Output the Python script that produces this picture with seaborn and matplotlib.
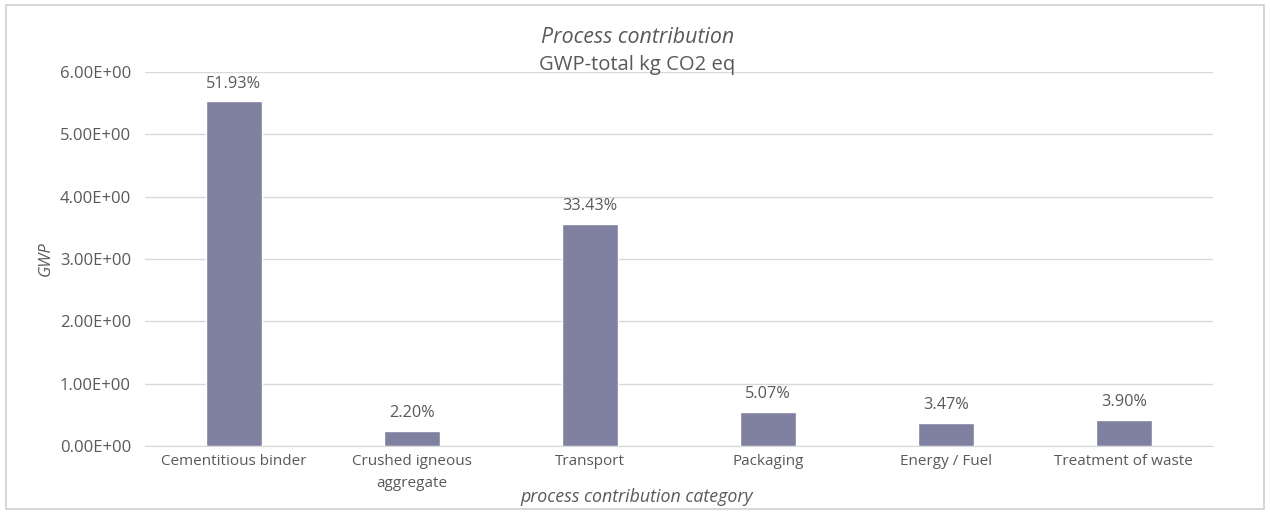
import seaborn as sns
import matplotlib.pyplot as plt
import matplotlib.patches as patches
import pandas as pd

categories = ['Cementitious binder', 'Crushed igneous\naggregate', 'Transport',
              'Packaging', 'Energy / Fuel', 'Treatment of waste']
gwp = [5.53, 0.234, 3.56, 0.54, 0.37, 0.415]
shares = ['51.93%', '2.20%', '33.43%', '5.07%', '3.47%', '3.90%']

sns.set_style('white')
plt.rcParams['font.family'] = ['Open Sans', 'DejaVu Sans']
txt = '#595959'

df = pd.DataFrame({'category': categories, 'gwp': gwp})

fig = plt.figure(figsize=(12.7, 5.12), dpi=100)
ax = fig.add_axes([0.114, 0.129, 0.841, 0.730])

sns.barplot(ax=ax, data=df, x='category', y='gwp', color='#8080a0',
            saturation=1, width=0.315, zorder=3)

ax.set_ylim(0, 6)
ax.set_xlim(-0.5, 5.5)
ax.set_yticks([0, 1, 2, 3, 4, 5, 6])
ax.set_yticklabels([f'{v:.2f}E+00' for v in range(7)], fontsize=12, color=txt)
ax.tick_params(axis='x', labelsize=11, labelcolor=txt, length=0, pad=6)
for lab in ax.get_xticklabels():
    lab.set_linespacing(1.6)
ax.tick_params(axis='y', length=0, pad=10)
ax.grid(axis='y', color='#d9d9d9', linewidth=1, zorder=0)
for s in ['top', 'right', 'left']:
    ax.spines[s].set_visible(False)
ax.spines['bottom'].set_color('#d9d9d9')

# percentage share above each bar
for i, (v, s) in enumerate(zip(gwp, shares)):
    ax.text(i, v + 0.16, s, ha='center', va='bottom', fontsize=11.7, color=txt)

ax.set_xlabel('')
ax.set_ylabel('')
fig.text(0.036, 0.494, 'GWP', ha='center', va='center', rotation=90,
         fontsize=12, style='italic', color=txt)
fig.text(0.501, 0.029, 'process contribution category', ha='center', va='center',
         fontsize=12.8, style='italic', color=txt)

fig.text(0.502, 0.926, 'Process contribution', ha='center', va='center',
         fontsize=15.4, style='italic', color=txt)
fig.text(0.502, 0.874, 'GWP-total kg CO2 eq', ha='center', va='center',
         fontsize=14.6, color=txt)

fig.patches.append(patches.Rectangle((0.005, 0.005), 0.99, 0.985, transform=fig.transFigure,
                                     fill=False, edgecolor='#d0d0d0', linewidth=1.2))

fig.savefig('out.png', dpi=100)
